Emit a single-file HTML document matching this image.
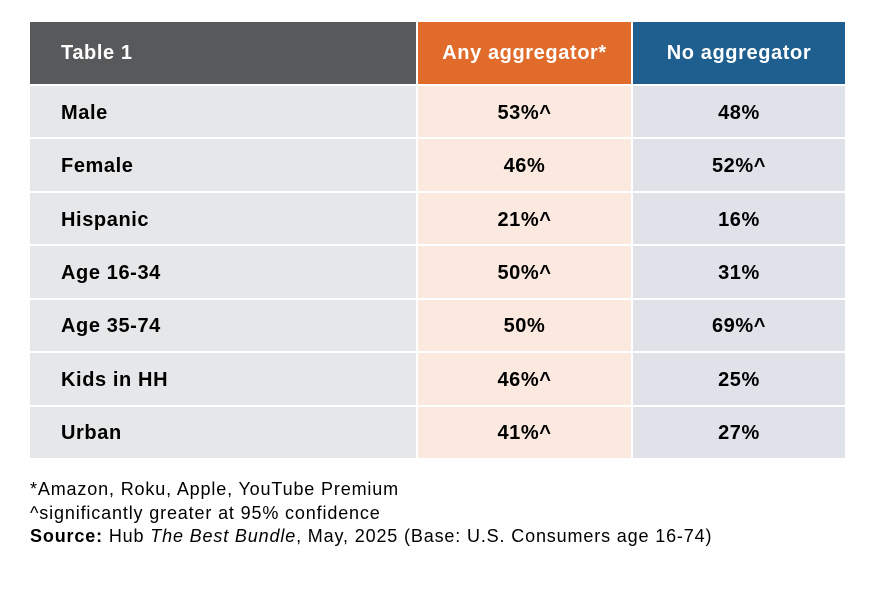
<!DOCTYPE html>
<html><head><meta charset="utf-8"><style>
body{margin:0;width:894px;height:595px;background:#fff;font-family:"Liberation Sans",sans-serif;position:relative;overflow:hidden}
.c{position:absolute;box-sizing:border-box;display:flex;align-items:center;font-weight:bold;font-size:20px;letter-spacing:0.6px;color:#000;padding-top:3px}
.h{color:#fff;font-size:20px;letter-spacing:0.6px;padding-top:0}
.l{padding-left:31px}
.m{justify-content:center}
.note{position:absolute;left:30px;font-size:18px;letter-spacing:0.85px;color:#000}
</style></head><body>
<div id="t"></div>
<div class="note" style="top:479px">*Amazon, Roku, Apple, YouTube Premium</div>
<div class="note" style="top:503px">^significantly greater at 95% confidence</div>
<div class="note" style="top:526px"><b>Source:</b> Hub <i>The Best Bundle</i>, May, 2025 (Base: U.S. Consumers age 16-74)</div>
<script>
const labels=["Male","Female","Hispanic","Age 16-34","Age 35-74","Kids in HH","Urban"];
const anyAgg=["53%^","46%","21%^","50%^","50%","46%^","41%^"];
const noAgg=["48%","52%^","16%","31%","69%^","25%","27%"];
const headers=["Table 1","Any aggregator*","No aggregator"];
const t=document.getElementById('t');
const cols=[[30,386],[418,213],[633,212]];
const hc=["#58595b","#e06b2a","#1e5f8f"];
const bc=["#e6e7e8","#fbe9df","#e0e2ea"];
function cell(x,y,w,h,bg,txt,cls){const d=document.createElement('div');d.className='c '+cls;d.style.cssText=`left:${x}px;top:${y}px;width:${w}px;height:${h}px;background:${bg}`;d.textContent=txt;t.appendChild(d);return d;}
headers.forEach((hd,i)=>{const d=cell(cols[i][0],22,cols[i][1],62,hc[i],hd,'h '+(i?'m':'l'));

});
const rh=(460-86)/labels.length;
labels.forEach((lb,r)=>{const y=86+r*rh;const h=rh-2;
const vals=[lb,anyAgg[r],noAgg[r]];
vals.forEach((v,i)=>{const d=cell(cols[i][0],y,cols[i][1],h,bc[i],v,i?'m':'l');

});});
</script>
</body></html>
